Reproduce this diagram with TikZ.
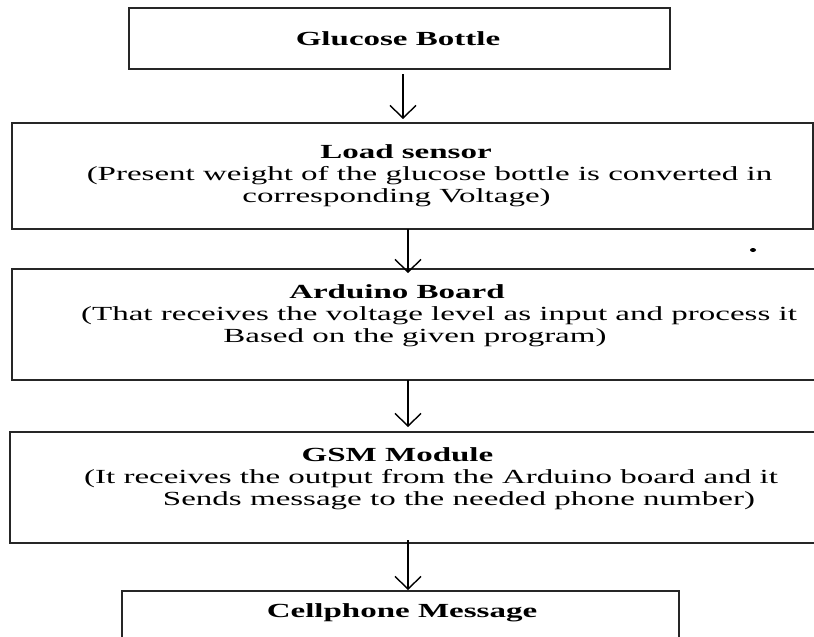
\documentclass[tikz,border=0pt]{standalone}
\usepackage{fontspec}
\setmainfont{Liberation Serif}[FakeStretch=1.65]
\usetikzlibrary{arrows.meta}
\begin{document}
\begin{tikzpicture}[x=0.5pt,y=-0.5pt,
    block/.style={draw=black!85,line width=0.8pt,inner sep=0pt,outer sep=0pt,
      align=center,font=\fontsize{10}{11}\selectfont},
    flow/.style={line width=0.7pt,-{Straight Barb[length=6.3pt,width=13pt]}}]
    \useasboundingbox (0,0) rectangle (814,637);

    \node[block,minimum width=270.5pt,minimum height=30.5pt] (bottle) at (399.5,38.5)
        {\textbf{Glucose Bottle}\hspace*{1.5pt}};
    \node[block,minimum width=400.5pt,minimum height=53pt] (load) at (412.5,176)
        {\textbf{Load sensor}\hspace*{6.5pt}\\
         \hspace*{17pt}(Present weight of the glucose bottle is converted in\\
         corresponding Voltage)\hspace*{16pt}};
    \node[block,minimum width=403pt,minimum height=55.5pt] (arduino) at (415,324.5)
        {\textbf{Arduino Board}\hspace*{18pt}\\
         \hspace*{24pt}(That receives the voltage level as input and process it\\
         Based on the given program)\hspace*{55pt}\\ \mbox{}};
    \node[block,minimum width=404pt,minimum height=55.5pt] (gsm) at (414,487.5)
        {\textbf{GSM Module}\hspace*{16.5pt}\\
         \hspace*{17pt}(It receives the output from the Arduino board and it\\
         \hspace*{45pt}Sends message to the needed phone number)\\ \mbox{}};
    \node[block,minimum width=278.5pt,minimum height=30.5pt] (cell) at (400.5,621.5)
        {\hspace*{1.5pt}\textbf{Cellphone Message}\\ \mbox{}};

    \fill (753,250) ellipse [x radius=1.5pt,y radius=1pt];

    \draw[flow] ([xshift=1.75pt,yshift=-2.5pt]bottle.south) -- ([xshift=-4.75pt,yshift=2pt]load.north);
    \draw[flow] ([xshift=-2.25pt]load.south) -- ([xshift=-3.5pt,yshift=-2pt]arduino.north);
    \draw[flow] ([xshift=-3.5pt]arduino.south) -- ([xshift=-3pt,yshift=2.5pt]gsm.north);
    \draw[flow] ([xshift=-3pt,yshift=1.5pt]gsm.south) -- ([xshift=3.75pt,yshift=0.5pt]cell.north);
\end{tikzpicture}
\end{document}
